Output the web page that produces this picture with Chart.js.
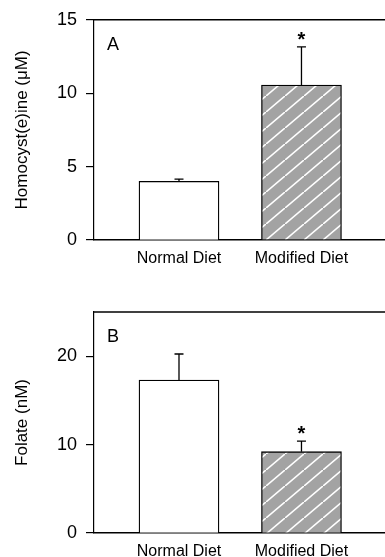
<!DOCTYPE html>
<html>
<head>
<meta charset="utf-8">
<style>
  body { margin: 0; background: #fff; }
  .panel { position: absolute; left: 0; width: 385px; }
  #pa { top: 0; height: 278px; }
  #pb { top: 278px; height: 279px; }
</style>
<script src="https://cdn.jsdelivr.net/npm/chart.js"></script>
</head>
<body>
<div class="panel" id="pa"><canvas id="chartA"></canvas></div>
<div class="panel" id="pb"><canvas id="chartB"></canvas></div>
<script>
// data
const categories = ['Normal Diet', 'Modified Diet'];
const homocysteine = [4.0, 10.55];
const homocysteineErr = [0.15, 2.6];
const folate = [17.3, 9.2];
const folateErr = [2.95, 1.2];
const markA = ['', '*'];
const markB = ['', '*'];

const FONT = '"Liberation Sans", Arial, sans-serif';

function hatch() {
  const w = 19, h = 16;
  const c = document.createElement('canvas');
  c.width = w; c.height = h;
  const g = c.getContext('2d');
  g.fillStyle = '#a3a3a3';
  g.fillRect(0, 0, w, h);
  g.strokeStyle = '#fff';
  g.lineWidth = 1.6;
  g.beginPath();
  g.moveTo(-w, 2 * h); g.lineTo(2 * w, -h);
  g.stroke();
  return g.createPattern(c, 'repeat');
}

// one-sided error bars, top border line, panel letter, significance marks
const extras = {
  id: 'extras',
  afterDatasetsDraw(chart, args, opts) {
    const ctx = chart.ctx;
    const ys = chart.scales.y;
    const area = chart.chartArea;
    const meta = chart.getDatasetMeta(0);
    const vals = chart.data.datasets[0].data;
    ctx.save();
    ctx.strokeStyle = '#000';
    ctx.lineWidth = 1.3;
    meta.data.forEach((bar, i) => {
      const top = ys.getPixelForValue(vals[i].y + opts.err[i]);
      ctx.beginPath();
      ctx.moveTo(bar.x, bar.y);
      ctx.lineTo(bar.x, top);
      ctx.moveTo(bar.x - 4.5, top);
      ctx.lineTo(bar.x + 4.5, top);
      ctx.stroke();
      if (opts.marks[i]) {
        ctx.fillStyle = '#000';
        ctx.font = 'bold 20px ' + FONT;
        ctx.textAlign = 'center';
        ctx.textBaseline = 'alphabetic';
        ctx.fillText(opts.marks[i], bar.x, top - 12.5 + 11.5);
      }
    });
    ctx.lineWidth = 1.4;
    ctx.beginPath();
    ctx.moveTo(area.left, area.top);
    ctx.lineTo(area.right, area.top);
    ctx.stroke();
    ctx.fillStyle = '#000';
    ctx.font = '18px ' + FONT;
    ctx.textAlign = 'left';
    ctx.textBaseline = 'alphabetic';
    ctx.fillText(opts.letter, area.left + 13, area.top + 30);
    ctx.restore();
  }
};

function makeChart(id, values, errs, marks, letter, yTitle, yMax, step, padTop, xHeight) {
  const pattern = hatch();
  return new Chart(document.getElementById(id), {
    type: 'bar',
    data: {
      datasets: [{
        data: values.map((v, i) => ({ x: i + 1, y: v })),
        backgroundColor: ['#ffffff', pattern],
        borderColor: '#000',
        borderWidth: 1.3,
        borderSkipped: 'bottom',
        barThickness: 80
      }]
    },
    options: {
      responsive: true,
      maintainAspectRatio: false,
      animation: false,
      layout: { padding: { top: padTop, left: 0, right: 0, bottom: 0 } },
      plugins: {
        legend: { display: false },
        tooltip: { enabled: false },
        extras: { err: errs, marks: marks, letter: letter }
      },
      scales: {
        x: {
          type: 'linear',
          offset: false,
          min: 0.306,
          max: 2.682,
          afterBuildTicks: s => { s.ticks = categories.map((c, i) => ({ value: i + 1 })); },
          afterFit: s => { s.height = xHeight; },
          ticks: {
            callback: v => categories[v - 1] || '',
            color: '#000',
            font: { family: FONT, size: 16 },
            padding: 9,
            maxRotation: 0,
            autoSkip: false
          },
          grid: { display: false, drawTicks: false, offset: false },
          border: { display: true, color: '#000', width: 1.4 }
        },
        y: {
          min: 0,
          max: yMax,
          afterFit: s => { s.width = 94; },
          ticks: {
            stepSize: step,
            includeBounds: false,
            color: '#000',
            font: { family: FONT, size: 18 },
            padding: 9
          },
          grid: {
            drawOnChartArea: false,
            drawTicks: true,
            tickLength: 8,
            color: '#000',
            lineWidth: 1.2
          },
          border: { display: true, color: '#000', width: 1.2 },
          title: {
            display: true,
            text: yTitle,
            color: '#000',
            font: { family: FONT, size: 17 },
            padding: { top: 12, bottom: 0 }
          }
        }
      }
    },
    plugins: [extras]
  });
}

makeChart('chartA', homocysteine, homocysteineErr, markA, 'A', 'Homocyst(e)ine (\u03bcM)', 15, 5, 19, 38);
makeChart('chartB', folate, folateErr, markB, 'B', 'Folate (nM)', 25, 10, 34, 24);
</script>
</body>
</html>
